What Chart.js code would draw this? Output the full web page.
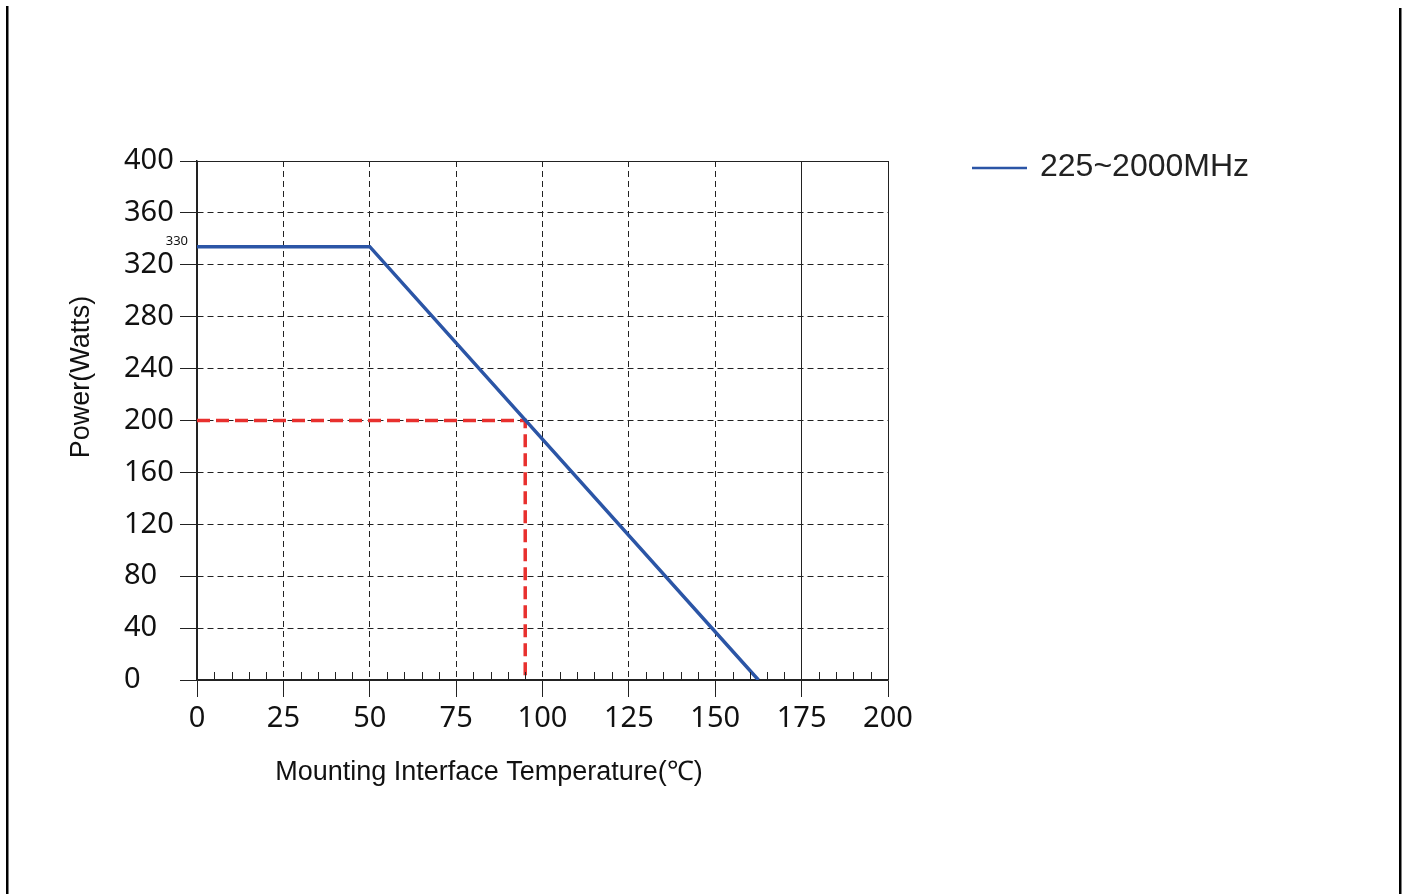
<!DOCTYPE html>
<html>
<head>
<meta charset="utf-8">
<script src="https://cdn.jsdelivr.net/npm/chart.js@4"></script>
<style>
  body { margin: 0; background: #fff; }
  #wrap { position: relative; width: 1406px; height: 894px; }
</style>
</head>
<body>
<div id="wrap"><canvas id="derating"></canvas></div>
<script>
// derating curve (flat part drawn a little above the 330 mark, as in the source)
const temps = [0, 50, 162.5];
const power = [334, 334, 0];
// 200 W reference point
const refTemps = [0, 95, 95];
const refPower = [200, 200, 0];

const xTicks = [0, 25, 50, 75, 100, 125, 150, 175, 200];
const yTicks = [0, 40, 80, 120, 160, 200, 240, 280, 320, 360, 400];
const solidX = [0, 175, 200];
const solidY = [0, 400];
const seriesName = '225~2000MHz';

const BLUE = '#2b55a6';
const RED = '#e8302e';
const GRID = '#222';
const tickFont = { family: 'Noto Sans', size: 29 };

const extras = {
  id: 'extras',
  afterDraw(chart) {
    const ctx = chart.ctx;
    const x = chart.scales.x, y = chart.scales.y;
    ctx.save();
    // minor ticks every 5
    ctx.strokeStyle = GRID;
    ctx.lineWidth = 1;
    const y0 = y.getPixelForValue(0);
    for (let v = 5; v < 200; v += 5) {
      if (v % 25 === 0) continue;
      const px = Math.round(x.getPixelForValue(v)) + 0.5;
      ctx.beginPath();
      ctx.moveTo(px, y0);
      ctx.lineTo(px, y0 - 8);
      ctx.stroke();
    }
    // 330 label
    ctx.fillStyle = '#111';
    ctx.font = '13px "Noto Sans"';
    ctx.textAlign = 'right';
    ctx.textBaseline = 'middle';
    ctx.fillText('330', x.getPixelForValue(0) - 9, y.getPixelForValue(power[0]) - 5);
    // axis titles
    ctx.font = '27px "Liberation Sans", Arial';
    ctx.textAlign = 'center';
    ctx.fillText('Mounting Interface Temperature(\u2103)', 489, 773);
    ctx.save();
    ctx.translate(82, 377);
    ctx.rotate(-Math.PI / 2);
    ctx.fillText('Power(Watts)', 0, 0);
    ctx.restore();
    // legend
    ctx.strokeStyle = BLUE;
    ctx.lineWidth = 2.5;
    ctx.beginPath();
    ctx.moveTo(972, 168);
    ctx.lineTo(1027, 168);
    ctx.stroke();
    ctx.fillStyle = '#222';
    ctx.font = '32px "Liberation Sans", Arial';
    ctx.textAlign = 'left';
    ctx.fillText(seriesName, 1040, 167);
    // page frame lines
    ctx.fillStyle = '#000';
    ctx.fillRect(6, 6, 2.5, 888);
    ctx.fillRect(1399, 8, 2.5, 886);
    ctx.restore();
  }
};

new Chart(document.getElementById('derating'), {
  type: 'line',
  data: {
    datasets: [
      {
        label: seriesName,
        data: temps.map((t, i) => ({ x: t, y: power[i] })),
        borderColor: BLUE,
        borderWidth: 3.5,
        pointRadius: 0,
        tension: 0
      },
      {
        label: 'ref',
        data: refTemps.map((t, i) => ({ x: t, y: refPower[i] })),
        borderColor: RED,
        borderWidth: 3.5,
        borderDash: [13, 6],
        pointRadius: 0,
        tension: 0
      }
    ]
  },
  options: {
    responsive: true,
    maintainAspectRatio: false,
    animation: false,
    layout: { padding: { left: 124, top: 161, right: 518, bottom: 0 } },
    plugins: { legend: { display: false }, tooltip: { enabled: false } },
    scales: {
      x: {
        type: 'linear',
        min: 0,
        max: 200,
        afterFit: (s) => { s.height = 214; },
        afterBuildTicks: (s) => { s.ticks = xTicks.map(v => ({ value: v })); },
        ticks: { font: tickFont, color: '#111', padding: 4, maxRotation: 0 },
        grid: {
          color: GRID,
          lineWidth: 1,
          tickLength: 17,
          tickColor: GRID
        },
        border: {
          display: true,
          color: GRID,
          width: 1.5,
          dash: (c) => (c.tick && !solidX.includes(c.tick.value)) ? [6, 4] : []
        }
      },
      y: {
        min: 0,
        max: 400,
        afterFit: (s) => { s.width = 73; },
        afterBuildTicks: (s) => { s.ticks = yTicks.map(v => ({ value: v })); },
        ticks: { font: tickFont, color: '#111', padding: 3, crossAlign: 'far' },
        grid: {
          color: GRID,
          lineWidth: 1,
          tickLength: 17,
          tickColor: GRID
        },
        border: {
          display: true,
          color: GRID,
          width: 1.5,
          dash: (c) => (c.tick && !solidY.includes(c.tick.value)) ? [6, 4] : []
        }
      }
    }
  },
  plugins: [extras]
});
</script>
</body>
</html>
